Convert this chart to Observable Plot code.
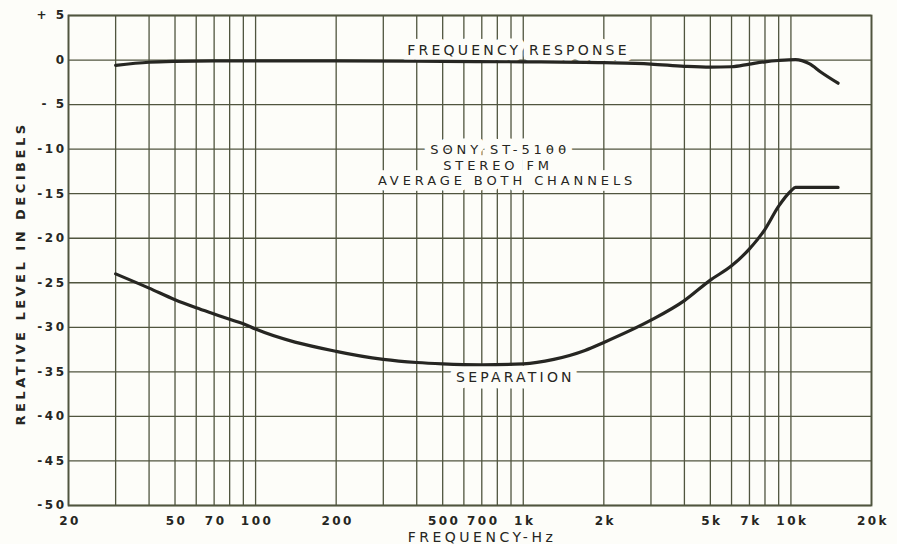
<!DOCTYPE html>
<html>
<head>
<meta charset="utf-8">
<script src="https://cdn.jsdelivr.net/npm/d3@7"></script>
<script src="https://cdn.jsdelivr.net/npm/@observablehq/plot@0.6"></script>
<style>
  body { margin: 0; background: #fdfdf9; }
  svg { display: block; }
</style>
</head>
<body>
<div id="chart"></div>
<script>
// ---- data ----
const responseFreq = [30, 40, 50, 70, 100, 200, 500, 1000, 2000, 3000, 4000, 5000, 6000, 7000, 8000, 9000, 10400, 11700, 13000, 15000];
const responseDb   = [-0.6, -0.25, -0.15, -0.1, -0.1, -0.1, -0.15, -0.2, -0.3, -0.45, -0.7, -0.8, -0.75, -0.45, -0.2, -0.05, 0.05, -0.4, -1.4, -2.6];

const separationFreq = [30, 40, 50, 60, 70, 80, 90, 100, 200, 300, 400, 500, 700, 1000, 1300, 1700, 2000, 3000, 4000, 5000, 6000, 7000, 8000, 9000, 10000, 10400, 15000];
const separationDb   = [-24.0, -25.6, -26.9, -27.8, -28.5, -29.1, -29.6, -30.2, -32.7, -33.6, -33.95, -34.1, -34.2, -34.1, -33.6, -32.6, -31.7, -29.2, -27.0, -24.7, -23.1, -21.2, -19.0, -16.4, -14.7, -14.3, -14.3];

const gridFreqs = [20, 30, 40, 50, 60, 70, 80, 90, 100, 200, 300, 400, 500, 600, 700, 800, 900, 1000, 2000, 3000, 4000, 5000, 6000, 7000, 8000, 9000, 10000, 20000];
const gridDb = [5, 0, -5, -10, -15, -20, -25, -30, -35, -40, -45, -50];

const xTickValues = [20, 50, 70, 100, 200, 500, 700, 1000, 2000, 5000, 7000, 10000, 20000];
const xTickLabels = ["20", "50", "70", "100", "200", "500", "700", "1k", "2k", "5k", "7k", "10k", "20k"];
const yTickValues = [5, 0, -5, -10, -15, -20, -25, -30, -35, -40, -45, -50];
const yTickLabels = ["+ 5", "0", "- 5", "-10", "-15", "-20", "-25", "-30", "-35", "-40", "-45", "-50"];

const annotationFreq = [960, 935, 820, 805, 870];
const annotationDb = [1.05, -35.65, -10.1, -11.84, -13.58];
const annotationLabels = ["FREQUENCY RESPONSE", "SEPARATION", "SONY ST-5100", "STEREO FM", "AVERAGE BOTH CHANNELS"];

const xTitle = "FREQUENCY-Hz";
const yTitle = "RELATIVE LEVEL IN DECIBELS";

// ---- tables built from the arrays ----
const response = responseFreq.map((f, i) => ({f, db: responseDb[i]}));
const separation = separationFreq.map((f, i) => ({f, db: separationDb[i]}));
const xTicks = xTickValues.map((v, i) => ({v, label: xTickLabels[i]}));
const yTicks = yTickValues.map((v, i) => ({v, label: yTickLabels[i]}));
const annotations = annotationLabels.map((label, i) => ({f: annotationFreq[i], db: annotationDb[i], label}));

const bg = "#fdfdf9";
const gridColor = "#50553f";
const ink = "#262622";
const font = "DejaVu Sans";

const chart = Plot.plot({
  width: 897,
  height: 544,
  marginTop: 15,
  marginBottom: 39,
  marginLeft: 68,
  marginRight: 26,
  style: {background: bg, fontFamily: font},
  x: {type: "log", domain: [20, 20000], axis: null},
  y: {domain: [-50, 5], axis: null},
  marks: [
    Plot.ruleX(gridFreqs, {x: d => d, stroke: gridColor, strokeWidth: 1.3}),
    Plot.ruleY(gridDb, {y: d => d, stroke: gridColor, strokeWidth: 1.3}),
    Plot.frame({stroke: gridColor, strokeWidth: 1.8}),
    // labels with a paper-coloured halo that blanks the grid behind them
    Plot.text(annotations, {
      x: "f", y: "db", text: "label",
      fontSize: (d, i) => (i >= 2 ? 13 : 14), fill: ink, stroke: bg,
      strokeWidth: (d, i) => (i >= 3 ? 11.5 : 13), strokeLinejoin: "round",
      fontFamily: font
    }),
    Plot.line(response, {x: "f", y: "db", curve: "monotone-x", stroke: ink, strokeWidth: 3.2}),
    Plot.line(separation, {x: "f", y: "db", curve: "monotone-x", stroke: ink, strokeWidth: 3.2}),
    Plot.text(yTicks, {
      y: "v", text: "label", frameAnchor: "left", dx: -2, textAnchor: "end",
      fontSize: 12, fontWeight: "bold", fill: ink, fontFamily: font
    }),
    Plot.text(xTicks, {
      x: "v", text: "label", frameAnchor: "bottom", dy: 19, dx: 1.5,
      fontSize: 12, fontWeight: "bold", fill: ink, fontFamily: font
    }),
    Plot.text([xTitle], {
      frameAnchor: "bottom", dy: 36, dx: 12, textAnchor: "middle",
      fontSize: 14, fill: ink, fontFamily: font
    }),
    Plot.text([yTitle], {
      frameAnchor: "left", rotate: -90, dx: -48, dy: 13, textAnchor: "middle",
      fontSize: 13, fontWeight: "bold", fill: ink, fontFamily: font
    })
  ]
});

// letter spacing to mimic the wide lettering of the original
const spacing = new Map();
yTickLabels.forEach(t => spacing.set(t, "2.5px"));
xTickLabels.forEach(t => spacing.set(t, "2.5px"));
annotationLabels.forEach((t, i) => spacing.set(t, i >= 2 ? "3.9px" : "3.2px"));
spacing.set(xTitle, "3.5px");
spacing.set(yTitle, "3.5px");
d3.select(chart).selectAll("text").each(function() {
  const s = spacing.get(this.textContent);
  if (s) this.setAttribute("letter-spacing", s);
});

document.getElementById("chart").appendChild(chart);
</script>
</body>
</html>
